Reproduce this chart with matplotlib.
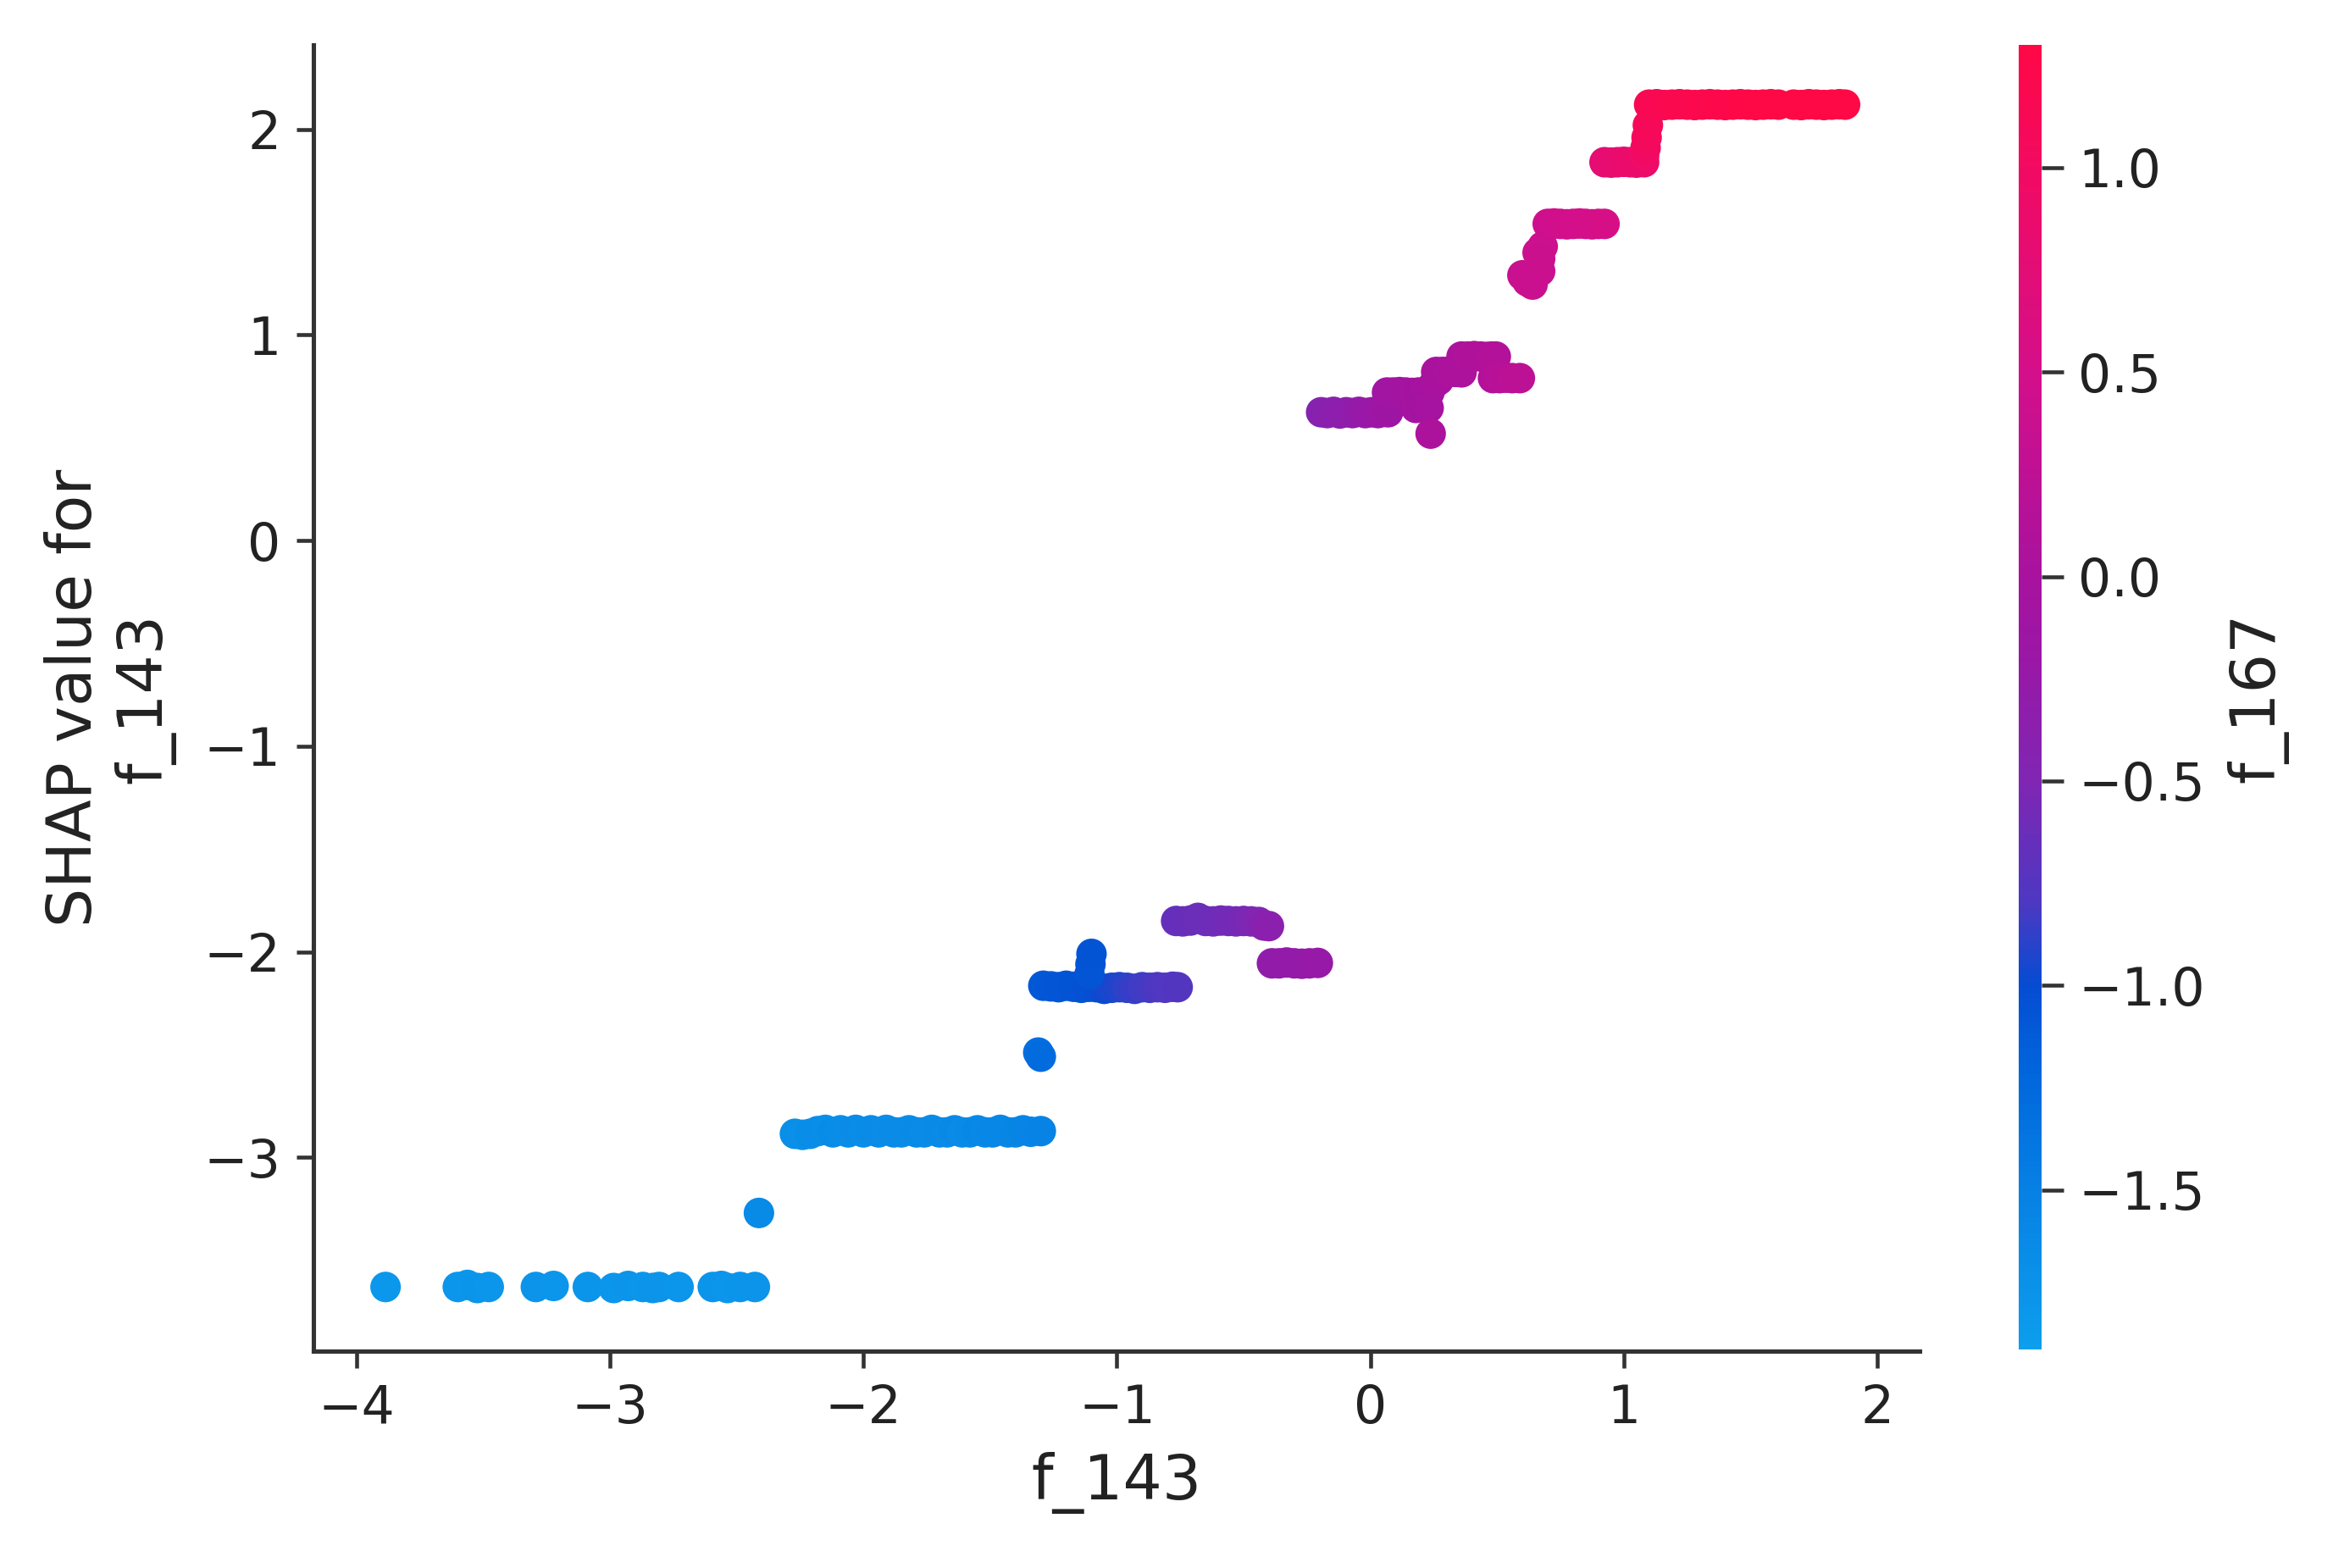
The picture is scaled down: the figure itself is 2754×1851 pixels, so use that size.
import numpy as np
import matplotlib
matplotlib.use("Agg")
import matplotlib.pyplot as plt
from matplotlib.colors import LinearSegmentedColormap, Normalize

# ---------------- data ----------------
# bottom row
row1_x = [-3.885, -3.600, -3.562, -3.523, -3.478, -3.292, -3.222, -3.087, -2.985,
          -2.928, -2.870, -2.831, -2.806, -2.729, -2.594, -2.560, -2.536, -2.486, -2.428]
row1_y = [-3.63, -3.63, -3.62, -3.635, -3.63, -3.63, -3.625, -3.63, -3.635,
          -3.625, -3.63, -3.635, -3.63, -3.63, -3.63, -3.625, -3.635, -3.63, -3.63]
row1_c = [-1.80, -1.78, -1.79, -1.77, -1.78, -1.76, -1.78, -1.77, -1.79,
          -1.76, -1.78, -1.77, -1.76, -1.78, -1.77, -1.76, -1.78, -1.77, -1.76]

single1_x = [-2.412]
single1_y = [-3.27]
single1_c = [-1.62]

# row near -2.88
row2_x = [-2.27, -2.24, -2.21, -2.18, -2.15, -2.12, -2.09, -2.06, -2.03, -2.00, -1.97,
          -1.94, -1.91, -1.88, -1.85, -1.82, -1.79, -1.76, -1.73, -1.70, -1.67, -1.64,
          -1.61, -1.58, -1.55, -1.52, -1.49, -1.46, -1.43, -1.40, -1.37, -1.34, -1.30]
row2_y = [-2.885, -2.89, -2.885, -2.872, -2.866, -2.878, -2.868, -2.878, -2.866, -2.878, -2.868,
          -2.878, -2.866, -2.878, -2.878, -2.868, -2.878, -2.878, -2.866, -2.878, -2.878, -2.868,
          -2.878, -2.878, -2.868, -2.878, -2.878, -2.866, -2.878, -2.878, -2.868, -2.875, -2.872]
row2_c = [-1.68, -1.70, -1.67, -1.66, -1.68, -1.65, -1.67, -1.66, -1.64, -1.66, -1.65,
          -1.64, -1.66, -1.63, -1.65, -1.64, -1.62, -1.64, -1.63, -1.62, -1.64, -1.61,
          -1.63, -1.62, -1.60, -1.61, -1.59, -1.60, -1.58, -1.57, -1.56, -1.55, -1.54]

single2_x = [-1.310, -1.300]
single2_y = [-2.49, -2.51]
single2_c = [-1.30, -1.28]

# row near -2.17 with a small spike
row3_x = [-1.29, -1.26, -1.23, -1.20, -1.17, -1.14, -1.11, -1.08, -1.05, -1.02,
          -0.99, -0.96, -0.93, -0.90, -0.87, -0.84, -0.81, -0.78, -0.76]
row3_y = [-2.165, -2.168, -2.172, -2.165, -2.17, -2.175, -2.17, -2.172, -2.18, -2.175,
          -2.172, -2.175, -2.18, -2.172, -2.175, -2.172, -2.175, -2.17, -2.172]
row3_c = [-1.10, -1.09, -1.08, -1.07, -1.06, -1.05, -1.04, -1.02, -0.98, -0.95,
          -0.92, -0.89, -0.86, -0.84, -0.82, -0.80, -0.78, -0.77, -0.76]
spike_x = [-1.108, -1.104, -1.100]
spike_y = [-2.11, -2.06, -2.01]
spike_c = [-1.08, -1.07, -1.06]

# row near -1.85
row4_x = [-0.766, -0.74, -0.71, -0.68, -0.65, -0.62, -0.59, -0.56, -0.53, -0.50,
          -0.47, -0.44, -0.42, -0.40]
row4_y = [-1.85, -1.852, -1.848, -1.835, -1.85, -1.852, -1.848, -1.85, -1.852, -1.85,
          -1.852, -1.855, -1.872, -1.875]
row4_c = [-0.66, -0.65, -0.64, -0.63, -0.62, -0.61, -0.60, -0.58, -0.57, -0.55,
          -0.52, -0.48, -0.42, -0.38]

# row near -2.06
row5_x = [-0.388, -0.36, -0.33, -0.30, -0.27, -0.24, -0.207]
row5_y = [-2.056, -2.056, -2.052, -2.056, -2.058, -2.056, -2.054]
row5_c = [-0.30, -0.29, -0.28, -0.27, -0.26, -0.25, -0.24]

# upper cluster around 0.6 - 0.9
row6_x = [-0.194, -0.17, -0.145, -0.12, -0.095, -0.07, -0.045, -0.02, 0.005, 0.03, 0.055, 0.07]
row6_y = [0.624, 0.62, 0.626, 0.618, 0.624, 0.62, 0.626, 0.62, 0.624, 0.62, 0.626, 0.624]
row6_c = [-0.42, -0.40, -0.38, -0.36, -0.34, -0.31, -0.28, -0.25, -0.22, -0.19, -0.16, -0.14]

step1_x = [0.066, 0.09, 0.115, 0.14, 0.165, 0.19, 0.215, 0.233, 0.18, 0.205, 0.23]
step1_y = [0.72, 0.72, 0.722, 0.72, 0.718, 0.72, 0.722, 0.72, 0.645, 0.66, 0.645]
step1_c = [-0.12, -0.10, -0.09, -0.08, -0.06, -0.05, -0.04, -0.03, -0.07, -0.05, -0.04]

step2_x = [0.25, 0.27, 0.26, 0.285, 0.31, 0.335, 0.36]
step2_y = [0.76, 0.78, 0.82, 0.82, 0.822, 0.82, 0.818]
step2_c = [-0.02, 0.00, 0.01, 0.02, 0.04, 0.05, 0.06]

step3_x = [0.36, 0.385, 0.41, 0.435, 0.46, 0.48, 0.495]
step3_y = [0.895, 0.895, 0.897, 0.895, 0.893, 0.895, 0.895]
step3_c = [0.06, 0.07, 0.08, 0.09, 0.10, 0.11, 0.12]

step4_x = [0.484, 0.51, 0.535, 0.56, 0.59]
step4_y = [0.79, 0.79, 0.792, 0.79, 0.79]
step4_c = [0.14, 0.16, 0.18, 0.20, 0.22]

single3_x = [0.238]
single3_y = [0.52]
single3_c = [0.05]

# upper steps
blob_x = [0.60, 0.62, 0.65, 0.64, 0.67, 0.66, 0.68, 0.67]
blob_y = [1.29, 1.26, 1.30, 1.245, 1.31, 1.40, 1.43, 1.37]
blob_c = [0.36, 0.37, 0.38, 0.37, 0.39, 0.40, 0.41, 0.40]

row7_x = [0.70, 0.725, 0.75, 0.775, 0.80, 0.825, 0.85, 0.875, 0.90, 0.924]
row7_y = [1.54, 1.542, 1.54, 1.538, 1.54, 1.542, 1.54, 1.538, 1.54, 1.54]
row7_c = [0.44, 0.45, 0.46, 0.47, 0.48, 0.49, 0.50, 0.51, 0.52, 0.53]

step5_x = [0.924, 0.95, 0.975, 1.00, 1.025, 1.05, 1.08]
step5_y = [1.84, 1.838, 1.84, 1.842, 1.84, 1.838, 1.84]
step5_c = [0.78, 0.80, 0.82, 0.84, 0.86, 0.88, 0.90]

column_x = [1.08, 1.086, 1.09, 1.095]
column_y = [1.87, 1.91, 1.96, 2.02]
column_c = [0.95, 1.00, 1.05, 1.10]

row8_x = [1.10, 1.13, 1.16, 1.19, 1.22, 1.25, 1.28, 1.31, 1.34, 1.37, 1.40, 1.43, 1.46,
          1.49, 1.52, 1.55, 1.58, 1.61, 1.67, 1.70, 1.73, 1.76, 1.79, 1.82, 1.85, 1.873]
row8_y = [2.12, 2.122, 2.118, 2.12, 2.122, 2.12, 2.118, 2.12, 2.122, 2.12, 2.118, 2.12, 2.122,
          2.12, 2.118, 2.12, 2.122, 2.12, 2.12, 2.118, 2.122, 2.12, 2.118, 2.12, 2.122, 2.12]
row8_c = [1.15, 1.16, 1.17, 1.18, 1.19, 1.20, 1.21, 1.22, 1.23, 1.24, 1.25, 1.26, 1.27,
          1.28, 1.28, 1.29, 1.29, 1.30, 1.30, 1.30, 1.30, 1.30, 1.30, 1.30, 1.30, 1.30]

xticks = [-4, -3, -2, -1, 0, 1, 2]
yticks = [-3, -2, -1, 0, 1, 2]
cticks = [-1.5, -1.0, -0.5, 0.0, 0.5, 1.0]
xlabel = "f_143"
ylabel = "SHAP value for\nf_143"
clabel = "f_167"

segments_x = [row1_x, single1_x, row2_x, single2_x, row3_x, spike_x, row4_x, row5_x,
              row6_x, step1_x, step2_x, step3_x, step4_x, single3_x, blob_x, row7_x,
              step5_x, column_x, row8_x]
segments_y = [row1_y, single1_y, row2_y, single2_y, row3_y, spike_y, row4_y, row5_y,
              row6_y, step1_y, step2_y, step3_y, step4_y, single3_y, blob_y, row7_y,
              step5_y, column_y, row8_y]
segments_c = [row1_c, single1_c, row2_c, single2_c, row3_c, spike_c, row4_c, row5_c,
              row6_c, step1_c, step2_c, step3_c, step4_c, single3_c, blob_c, row7_c,
              step5_c, column_c, row8_c]

f143 = np.concatenate([np.asarray(s, float) for s in segments_x])
shap_f143 = np.concatenate([np.asarray(s, float) for s in segments_y])
f167 = np.concatenate([np.asarray(s, float) for s in segments_c])

# ---------------- colour scale (blue -> purple -> red, as in the colorbar) ----------------
vmin, vmax = -1.89, 1.30
cmap_values = [-1.89, -1.5, -1.2, -1.0, -0.8, -0.5, -0.2, 0.0, 0.5, 1.0, 1.30]
cmap_colors = ["#0d9eed", "#0680e4", "#0064dc", "#054cd2", "#4d38c2", "#8026b3",
               "#9a17a6", "#a8129e", "#d40f8a", "#f20a62", "#ff0846"]
red_blue = LinearSegmentedColormap.from_list(
    "red_blue",
    [((v - vmin) / (vmax - vmin), col) for v, col in zip(cmap_values, cmap_colors)],
    N=256)

# ---------------- figure ----------------
plt.rcParams['font.family'] = ['DejaVu Sans']
fig = plt.figure(figsize=(7.5, 5.041), dpi=367.2)
fig.patch.set_facecolor("white")
ax = fig.add_axes([0.1343, 0.1383, 0.6885, 0.8331])
cax = fig.add_axes([0.8653, 0.1394, 0.0098, 0.8320])

norm = Normalize(vmin=vmin, vmax=vmax)
sc = ax.scatter(f143, shap_f143, c=f167, cmap=red_blue, norm=norm, s=50,
                linewidths=0, alpha=1.0, zorder=3)

ax.set_xlim(-4.17, 2.167)
ax.set_ylim(-3.942, 2.411)
ax.set_xticks(xticks)
ax.set_yticks(yticks)
ax.spines['top'].set_visible(False)
ax.spines['right'].set_visible(False)
for sp in ('left', 'bottom'):
    ax.spines[sp].set_color('#333333')
    ax.spines[sp].set_linewidth(1.0)
ax.tick_params(axis='both', labelsize=12.1, color='#333333', labelcolor='#222222',
               length=4, width=0.9)
ax.set_xlabel(xlabel, fontsize=14.3, color='#222222', labelpad=4)
ax.set_ylabel(ylabel, fontsize=14.3, color='#222222', labelpad=6.5)

cb = fig.colorbar(sc, cax=cax, ticks=cticks)
cb.outline.set_visible(False)
cb.ax.tick_params(labelsize=12.1, length=5, width=0.9, color='#333333', labelcolor='#222222')
cb.set_label(clabel, fontsize=14.3, color='#222222', labelpad=5)

fig.savefig("out.png", dpi=367.2, facecolor="white")
